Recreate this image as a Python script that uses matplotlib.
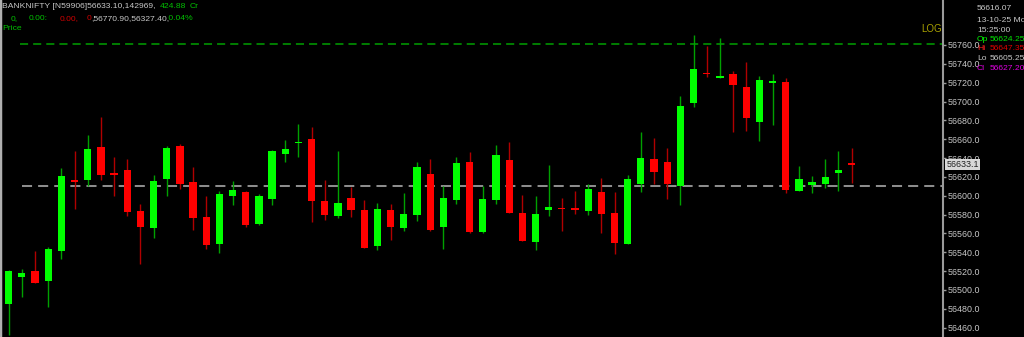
import matplotlib
matplotlib.use("Agg")
import matplotlib.pyplot as plt
import numpy as np

# OHLC of the 5-min candles
opens = [56485, 56514, 56520, 56510, 56541, 56616, 56617, 56652, 56624, 56627,
         56584, 56566, 56618, 56653, 56615, 56577, 56549, 56600, 56604, 56570,
         56597, 56644, 56656, 56660, 56594, 56578, 56598, 56585, 56547, 56585,
         56566, 56580, 56623, 56567, 56596, 56636, 56562, 56596, 56638, 56582,
         56551, 56585, 56587, 56586, 56584, 56604, 56582, 56549, 56613, 56639,
         56636, 56610, 56698, 56730, 56725, 56729, 56715, 56678, 56720, 56721,
         56605, 56611, 56612, 56624.25, 56634.5]
highs = [56521, 56522, 56541, 56546, 56629, 56648, 56664, 56684, 56641, 56639,
         56591, 56622, 56653, 56655, 56631, 56600, 56605, 56616, 56605, 56602,
         56649, 56659, 56676, 56673, 56617, 56648, 56609, 56596, 56592, 56591,
         56603, 56636, 56639, 56610, 56641, 56646, 56610, 56654, 56657, 56601,
         56600, 56633, 56598, 56605, 56613, 56619, 56604, 56622, 56668, 56661,
         56651, 56706, 56770.9, 56759, 56767, 56732, 56742, 56727, 56729, 56725,
         56632, 56621, 56639, 56647.35, 56651]
lows = [56452, 56493, 56507, 56482, 56533, 56586, 56610, 56617, 56600, 56578,
        56528, 56555, 56600, 56607, 56564, 56543, 56539, 56590, 56567, 56569,
        56590, 56636, 56641, 56572, 56574, 56576, 56577, 56545, 56542, 56553,
        56563, 56573, 56563, 56544, 56591, 56561, 56561, 56591, 56582, 56552,
        56542, 56578, 56563, 56581, 56580, 56560, 56538, 56549, 56604, 56613,
        56597, 56590, 56694, 56726, 56725, 56668, 56669, 56658, 56675, 56603,
        56605, 56603, 56608, 56605.25, 56614]
closes = [56520, 56518, 56507, 56544, 56621, 56615, 56650, 56622, 56622, 56583,
          56567, 56616, 56651, 56612, 56576, 56548, 56602, 56606, 56569, 56600,
          56648, 56650, 56657, 56594, 56580, 56592, 56585, 56545, 56586, 56567,
          56581, 56630, 56564, 56598, 56635, 56562, 56597, 56643, 56582, 56552,
          56581, 56588, 56586, 56585, 56607, 56581, 56550, 56618, 56640, 56625,
          56613, 56695, 56734, 56729, 56727, 56718, 56682, 56723, 56721, 56606,
          56618, 56615, 56620, 56627.2, 56633.1]

upper_level = 56761
prev_close = 56610
price_ticks = list(range(56460, 56761, 20))

GREEN = "#00ff00"
RED = "#ff0000"
GREEN_WICK = "#00a000"
RED_WICK = "#b00000"
AXIS_GRAY = "#9a9a9a"
TEXT_GRAY = "#c8c8c8"
FONT = "Liberation Sans"

fig = plt.figure(figsize=(10.24, 3.37), dpi=100)
fig.patch.set_facecolor("black")
ax = fig.add_axes([0, 0, 943 / 1024, 1])
ax.set_facecolor("black")

o = np.array(opens, dtype=float)
h = np.array(highs, dtype=float)
l = np.array(lows, dtype=float)
c = np.array(closes, dtype=float)
x = np.arange(len(o))
up = c >= o

# wicks
ax.vlines(x[up], l[up], h[up], color=GREEN_WICK, lw=1.0, zorder=2)
ax.vlines(x[~up], l[~up], h[~up], color=RED_WICK, lw=1.0, zorder=2)

# bodies
bottoms = np.minimum(o, c)
heights = np.maximum(np.abs(c - o), 1.5)
ax.bar(x[up], heights[up], bottom=bottoms[up], width=0.55, color=GREEN, lw=0, zorder=3)
ax.bar(x[~up], heights[~up], bottom=bottoms[~up], width=0.55, color=RED, lw=0, zorder=3)

# level lines
ax.axhline(upper_level, xmin=20 / 943, color="#00a000", lw=1.1, dashes=(5.3, 3.3), zorder=1)
ax.axhline(prev_close, xmin=22 / 943, color="#8c8c8c", lw=1.45, dashes=(5, 3), zorder=1)

# pixel based limits so candles sit where they do in the screenshot
px0, step = 8.7, 13.17
ax.set_xlim(-px0 / step, (943 - px0) / step)
ppp = 0.9423  # pixels per point
ax.set_ylim(56760 - (337 - 45) / ppp, 56760 + 45 / ppp)

for side in ["top", "bottom"]:
    ax.spines[side].set_visible(False)
ax.spines["right"].set_color(AXIS_GRAY)
ax.spines["right"].set_linewidth(1.5)
ax.spines["left"].set_color("#b0b0b0")
ax.spines["left"].set_linewidth(2.5)

ax.set_xticks([])
ax.yaxis.tick_right()
ax.set_yticks(price_ticks)
ax.set_yticklabels([f"{v:.1f}" for v in price_ticks])
ax.tick_params(axis="y", colors=AXIS_GRAY, labelcolor=TEXT_GRAY, length=2.5,
               width=1, pad=0.5, labelsize=6.4)
for t in ax.get_yticklabels():
    t.set_fontfamily(FONT)

# current price tag
ax.annotate(f"{closes[-1]:.1f}", xy=(1, closes[-1]), xycoords=("axes fraction", "data"),
            xytext=(2.5, 0), textcoords="offset points", va="center", ha="left",
            fontsize=6.4, family=FONT, color="#202020",
            bbox=dict(boxstyle="square,pad=0.15", fc="#d8d8d8", ec="none"))

ax.text(942 / 943, 1 - 29 / 337, "LOG", transform=ax.transAxes, ha="right", va="center",
        fontsize=7, family=FONT, color="#a8a000")


def ftxt(px, py, s, col, size=6.1):
    fig.text(px / 1024, 1 - py / 337, s, color=col, fontsize=size, family=FONT,
             ha="left", va="center")


# header
ftxt(2, 7, "BANKNIFTY [N59906]56633.10,142969,", TEXT_GRAY)
ftxt(160, 7, "424.88", "#00c000")
ftxt(190, 7, "Cr", "#00c000")
ftxt(11, 18.5, "0,", "#00c000")
ftxt(29, 18.5, "0.00:", "#00c000")
ftxt(60, 18.5, "0.00,", "#d00000")
ftxt(87, 18.5, "0", "#d00000")
ftxt(91, 18.5, ",56770.90,56327.40,", TEXT_GRAY)
ftxt(166, 18.5, " 0.04%", "#00c000")
ftxt(2, 29, "Price", "#00c000")

# info box on the right (cut off at the edge like the original)
ftxt(977, 8.5, "56616.07", TEXT_GRAY)
ftxt(977, 20, "13-10-25 Mo", TEXT_GRAY)
ftxt(977, 30.5, "15:25:00", TEXT_GRAY)
ftxt(977, 39.5, "Op", "#00ff00")
ftxt(990, 39.5, "56624.25", "#00e000")
ftxt(977, 48.5, "Hi", "#ff2020")
ftxt(990, 48.5, "56647.35", "#e00000")
ftxt(977, 58.5, "Lo", TEXT_GRAY)
ftxt(990, 58.5, "56605.25", TEXT_GRAY)
ftxt(977, 68, "Cl", "#e000e0")
ftxt(990, 68, "56627.20", "#e000e0")

fig.savefig("out.png", dpi=100, facecolor=fig.get_facecolor())
